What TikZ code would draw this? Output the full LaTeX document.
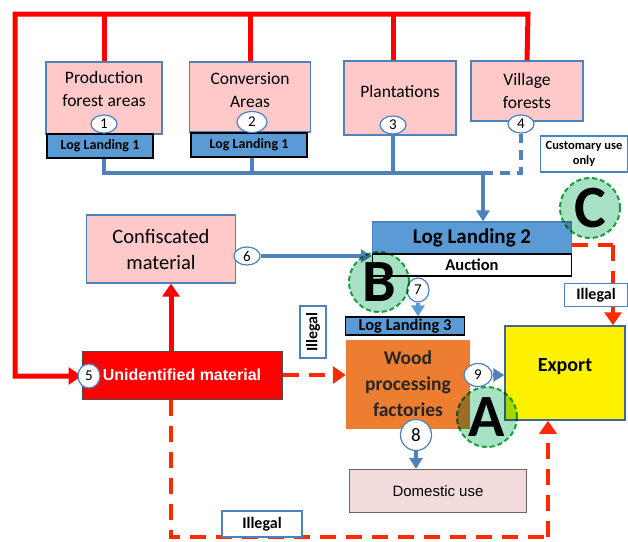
\documentclass[tikz,border=0pt]{standalone}
\usepackage{fontspec}
\setmainfont{Carlito}
\newfontfamily\arialfont{Liberation Sans}
\usetikzlibrary{arrows.meta,shapes.geometric,calc}
\definecolor{bdblue}{HTML}{4F81BD}
\definecolor{llblue}{HTML}{5B9BD5}
\definecolor{pinkfill}{HTML}{FFC9C9}
\definecolor{woodorange}{HTML}{ED7D31}
\definecolor{domfill}{HTML}{F2DCDB}
\definecolor{ringgreen}{HTML}{1FAA4A}
\definecolor{ringfill}{HTML}{A8E2C4}
\definecolor{dashred}{HTML}{FF2A00}
\tikzset{
  srcbox/.style={draw=bdblue,fill=pinkfill,line width=1.2pt,align=center,inner sep=0pt,font=\fontsize{17.5}{23}\selectfont},
  llbox/.style={draw=black,fill=llblue,line width=1.2pt,inner sep=0pt,font=\fontsize{14}{14}\selectfont\bfseries},
  numcirc/.style={ellipse,draw=bdblue,fill=white,line width=1.2pt,inner sep=0pt,minimum width=26pt,minimum height=18pt,font=\fontsize{15}{15}\selectfont},
  notebox/.style={draw=bdblue,fill=white,line width=1.2pt,inner sep=0pt,align=center,font=\fontsize{16}{16}\selectfont\bfseries},
  ring/.style={circle,draw=ringgreen,dashed,dash pattern=on 5pt off 3pt,line width=2pt,fill=ringfill,blend mode=multiply,minimum size=60pt,inner sep=0pt,font=\fontsize{60}{60}\selectfont\bfseries},
  rline/.style={draw=red,line width=5pt},
  rdash/.style={draw=dashred,line width=4pt,dash pattern=on 16pt off 10pt},
  bline/.style={draw=bdblue,line width=3.5pt},
  rtip/.style={-{Triangle[length=13pt,width=17pt]}},
  btip/.style={-{Triangle[length=11pt,width=13pt]}}
}
\begin{document}
\begin{tikzpicture}[x=1pt,y=-1pt]
\useasboundingbox (0,0) rectangle (628,541);

\coordinate (tl) at (15,14);
\coordinate (tr) at (528,14);
\coordinate (busL) at (104,173);
\coordinate (busD) at (483,173);
\coordinate (busR) at (521,173);
\coordinate (cr) at (613,245);
\coordinate (bl) at (171,537);
\coordinate (br) at (548,537);

\node[srcbox,minimum width=116pt,minimum height=72pt,text depth=19pt] (prod) at (104,98) {Production\\forest areas};
\node[srcbox,minimum width=121pt,minimum height=70pt,text depth=15pt] (conv) at (250,97) {Conversion\\Areas};
\node[srcbox,minimum width=112pt,minimum height=74pt,text depth=14pt] (plant) at (400,98) {Plantations};
\node[srcbox,minimum width=112pt,minimum height=60pt] (village) at (527,91) {Village\\forests};
\node[llbox,minimum width=106pt,minimum height=24pt] (lla) at (100,146) {Log Landing 1};
\node[llbox,minimum width=116pt,minimum height=24pt] (llb) at (249,145) {Log Landing 1};

\node[numcirc] (c1) at (104,124) {1};
\node[numcirc,minimum width=30pt,minimum height=21pt] (c2) at (252,122) {2};
\node[numcirc] (c3) at (393,125) {3};
\node[numcirc] (c4) at (521,124) {4};

\node[notebox,minimum width=87pt,minimum height=36pt,font=\fontsize{12.5}{15}\selectfont\bfseries] (cust) at (584,154) {Customary use\\only};

\node[draw=bdblue,fill=llblue,line width=1.2pt,minimum width=199pt,minimum height=32pt,inner sep=0pt,font=\fontsize{21}{21}\selectfont\bfseries] (ll2) at (472,238) {Log Landing 2};
\node[draw=black,fill=white,line width=1.2pt,minimum width=199pt,minimum height=22pt,inner sep=0pt,font=\fontsize{16.5}{16.5}\selectfont\bfseries] (auction) at (472,265) {Auction};

\node[srcbox,minimum width=149pt,minimum height=68pt,font=\fontsize{20.5}{26}\selectfont] (conf) at (161,249) {Confiscated\\material};
\node[draw=black!70,fill=red,line width=1pt,minimum width=200pt,minimum height=48pt,inner sep=0pt,text=white,font=\arialfont\fontsize{16}{16}\selectfont\bfseries] (unid) at (182,375) {Unidentified material};
\node[notebox,rotate=90,minimum width=52pt,minimum height=26pt] (illm) at (313,332) {Illegal};

\node[llbox,minimum width=119pt,minimum height=18pt,font=\fontsize{16.5}{16.5}\selectfont\bfseries] (ll3) at (405,326) {Log Landing 3};
\node[fill=woodorange,minimum width=124pt,minimum height=89pt,inner sep=0pt,align=center,font=\fontsize{19.5}{26}\selectfont\bfseries,text=black!85] (wood) at (408,384) {Wood\\processing\\factories};
\node[draw=bdblue!80!black,fill=yellow,line width=1.5pt,minimum width=120pt,minimum height=94pt,inner sep=0pt,text depth=16pt,font=\fontsize{20}{20}\selectfont\bfseries] (export) at (565,373) {Export};
\node[draw=black!60,fill=domfill,line width=1.2pt,minimum width=177pt,minimum height=43pt,inner sep=0pt,font=\arialfont\fontsize{15}{15}\selectfont] (dom) at (438,491) {Domestic use};

\draw[rline] (prod.north) -- (prod.north |- tl);
\draw[rline] (conv.north) -- (conv.north |- tl);
\draw[rline] (c3 |- plant.north) -- (c3 |- tl);
\draw[rline,rtip] (village.north) -- (tr) -- (tl) |- ($(unid.west)+(0,1)$);
\draw[rline,rtip] (unid.north -| bl) -- (conf.south -| bl);

\draw[bline] (lla.south -| c1) -- (busL) -- (busD);
\draw[bline] (llb.south -| c2) -- (c2 |- busL);
\draw[bline] (plant.south -| c3) -- (c3 |- busL);
\draw[bline,dash pattern=on 10pt off 7pt] (busD) -- (busR) -- (c4);
\draw[bline,btip] (busD) -- (ll2.north -| busD);

\node[numcirc] (c6) at (247,256) {6};
\draw[bline,btip] (c6) -- (c6 -| ll2.west);

\node[numcirc,minimum width=22pt,minimum height=24pt] (c7) at (418,290) {7};
\draw[draw=llblue,line width=4pt,btip] (c7) -- (c7 |- ll3.north);

\draw[rdash,rtip] (unid.east) -- (unid.east -| wood.west);
\draw[rdash] (ll2.east |- cr) -- (cr);
\draw[rdash,rtip] (cr) -- (cr |- export.north);
\draw[rdash] (unid.south -| bl) -- (bl) -- (br);
\draw[rdash,rtip] (br) -- (br |- export.south);

\node[notebox,minimum width=63pt,minimum height=23pt] (illr) at (596,295) {Illegal};
\node[notebox,minimum width=80pt,minimum height=26pt] (illb) at (262,524) {Illegal};

\node[numcirc,minimum width=22pt,minimum height=24pt] (c5) at (89,376) {5};
\node[numcirc,minimum width=28pt,minimum height=23pt] (c9) at (478,375) {9};
\draw[bline,btip] (c9) -- (c9 -| export.west);
\node[numcirc,minimum width=31pt,minimum height=31pt,font=\fontsize{19}{19}\selectfont] (c8) at (416,435) {8};
\draw[bline,btip] (c8) -- (c8 |- dom.north);

\node[ring] (ringC) at (590,208) {C};
\node[ring] (ringB) at (379,282) {B};
\node[ring] (ringA) at (487,417) {A};
\end{tikzpicture}
\end{document}
